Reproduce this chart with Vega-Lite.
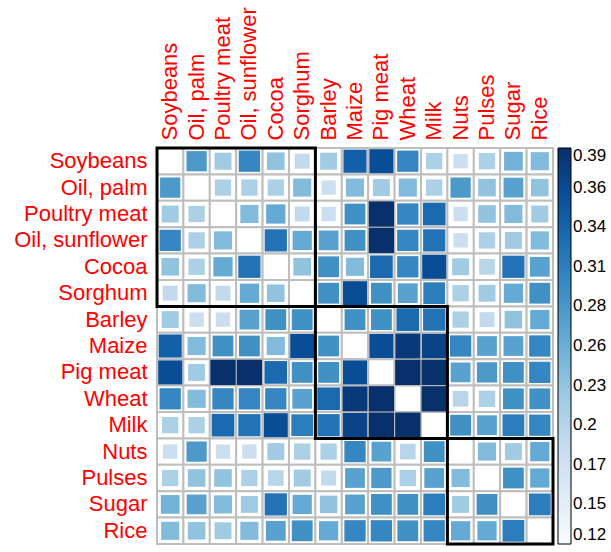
{
"$schema":"https://vega.github.io/schema/vega-lite/v6.json",
"autosize":"none",
"width":396,"height":396,
"padding":{"left":157,"top":148,"right":58,"bottom":8},
"background":"white",
"config":{"view":{"stroke":null},"font":"Liberation Sans"},
"datasets":{
"boxes":[{"a":"Soybeans","b":"Sorghum"},{"a":"Barley","b":"Milk"},{"a":"Nuts","b":"Rice"}],
"cells":[
{"r":"Soybeans","c":"Soybeans","v":null},{"r":"Soybeans","c":"Oil, palm","v":0.28},{"r":"Soybeans","c":"Poultry meat","v":0.22},{"r":"Soybeans","c":"Oil, sunflower","v":0.30},{"r":"Soybeans","c":"Cocoa","v":0.23},{"r":"Soybeans","c":"Sorghum","v":0.19},{"r":"Soybeans","c":"Barley","v":0.22},{"r":"Soybeans","c":"Maize","v":0.34},{"r":"Soybeans","c":"Pig meat","v":0.36},{"r":"Soybeans","c":"Wheat","v":0.30},{"r":"Soybeans","c":"Milk","v":0.21},{"r":"Soybeans","c":"Nuts","v":0.18},{"r":"Soybeans","c":"Pulses","v":0.21},{"r":"Soybeans","c":"Sugar","v":0.25},{"r":"Soybeans","c":"Rice","v":0.24},
{"r":"Oil, palm","c":"Soybeans","v":0.28},{"r":"Oil, palm","c":"Oil, palm","v":null},{"r":"Oil, palm","c":"Poultry meat","v":0.21},{"r":"Oil, palm","c":"Oil, sunflower","v":0.21},{"r":"Oil, palm","c":"Cocoa","v":0.21},{"r":"Oil, palm","c":"Sorghum","v":0.24},{"r":"Oil, palm","c":"Barley","v":0.18},{"r":"Oil, palm","c":"Maize","v":0.24},{"r":"Oil, palm","c":"Pig meat","v":0.22},{"r":"Oil, palm","c":"Wheat","v":0.24},{"r":"Oil, palm","c":"Milk","v":0.21},{"r":"Oil, palm","c":"Nuts","v":0.28},{"r":"Oil, palm","c":"Pulses","v":0.23},{"r":"Oil, palm","c":"Sugar","v":0.27},{"r":"Oil, palm","c":"Rice","v":0.23},
{"r":"Poultry meat","c":"Soybeans","v":0.22},{"r":"Poultry meat","c":"Oil, palm","v":0.21},{"r":"Poultry meat","c":"Poultry meat","v":null},{"r":"Poultry meat","c":"Oil, sunflower","v":0.24},{"r":"Poultry meat","c":"Cocoa","v":0.26},{"r":"Poultry meat","c":"Sorghum","v":0.19},{"r":"Poultry meat","c":"Barley","v":0.18},{"r":"Poultry meat","c":"Maize","v":0.29},{"r":"Poultry meat","c":"Pig meat","v":0.39},{"r":"Poultry meat","c":"Wheat","v":0.30},{"r":"Poultry meat","c":"Milk","v":0.33},{"r":"Poultry meat","c":"Nuts","v":0.18},{"r":"Poultry meat","c":"Pulses","v":0.23},{"r":"Poultry meat","c":"Sugar","v":0.24},{"r":"Poultry meat","c":"Rice","v":0.22},
{"r":"Oil, sunflower","c":"Soybeans","v":0.30},{"r":"Oil, sunflower","c":"Oil, palm","v":0.21},{"r":"Oil, sunflower","c":"Poultry meat","v":0.24},{"r":"Oil, sunflower","c":"Oil, sunflower","v":null},{"r":"Oil, sunflower","c":"Cocoa","v":0.32},{"r":"Oil, sunflower","c":"Sorghum","v":0.26},{"r":"Oil, sunflower","c":"Barley","v":0.27},{"r":"Oil, sunflower","c":"Maize","v":0.29},{"r":"Oil, sunflower","c":"Pig meat","v":0.39},{"r":"Oil, sunflower","c":"Wheat","v":0.30},{"r":"Oil, sunflower","c":"Milk","v":0.32},{"r":"Oil, sunflower","c":"Nuts","v":0.18},{"r":"Oil, sunflower","c":"Pulses","v":0.21},{"r":"Oil, sunflower","c":"Sugar","v":0.22},{"r":"Oil, sunflower","c":"Rice","v":0.24},
{"r":"Cocoa","c":"Soybeans","v":0.23},{"r":"Cocoa","c":"Oil, palm","v":0.21},{"r":"Cocoa","c":"Poultry meat","v":0.26},{"r":"Cocoa","c":"Oil, sunflower","v":0.32},{"r":"Cocoa","c":"Cocoa","v":null},{"r":"Cocoa","c":"Sorghum","v":0.23},{"r":"Cocoa","c":"Barley","v":0.29},{"r":"Cocoa","c":"Maize","v":0.24},{"r":"Cocoa","c":"Pig meat","v":0.33},{"r":"Cocoa","c":"Wheat","v":0.30},{"r":"Cocoa","c":"Milk","v":0.36},{"r":"Cocoa","c":"Nuts","v":0.22},{"r":"Cocoa","c":"Pulses","v":0.20},{"r":"Cocoa","c":"Sugar","v":0.32},{"r":"Cocoa","c":"Rice","v":0.27},
{"r":"Sorghum","c":"Soybeans","v":0.19},{"r":"Sorghum","c":"Oil, palm","v":0.24},{"r":"Sorghum","c":"Poultry meat","v":0.19},{"r":"Sorghum","c":"Oil, sunflower","v":0.26},{"r":"Sorghum","c":"Cocoa","v":0.23},{"r":"Sorghum","c":"Sorghum","v":null},{"r":"Sorghum","c":"Barley","v":0.29},{"r":"Sorghum","c":"Maize","v":0.36},{"r":"Sorghum","c":"Pig meat","v":0.29},{"r":"Sorghum","c":"Wheat","v":0.27},{"r":"Sorghum","c":"Milk","v":0.31},{"r":"Sorghum","c":"Nuts","v":0.21},{"r":"Sorghum","c":"Pulses","v":0.22},{"r":"Sorghum","c":"Sugar","v":0.26},{"r":"Sorghum","c":"Rice","v":0.29},
{"r":"Barley","c":"Soybeans","v":0.22},{"r":"Barley","c":"Oil, palm","v":0.18},{"r":"Barley","c":"Poultry meat","v":0.18},{"r":"Barley","c":"Oil, sunflower","v":0.27},{"r":"Barley","c":"Cocoa","v":0.29},{"r":"Barley","c":"Sorghum","v":0.29},{"r":"Barley","c":"Barley","v":null},{"r":"Barley","c":"Maize","v":0.29},{"r":"Barley","c":"Pig meat","v":0.29},{"r":"Barley","c":"Wheat","v":0.33},{"r":"Barley","c":"Milk","v":0.32},{"r":"Barley","c":"Nuts","v":0.21},{"r":"Barley","c":"Pulses","v":0.19},{"r":"Barley","c":"Sugar","v":0.23},{"r":"Barley","c":"Rice","v":0.26},
{"r":"Maize","c":"Soybeans","v":0.34},{"r":"Maize","c":"Oil, palm","v":0.24},{"r":"Maize","c":"Poultry meat","v":0.29},{"r":"Maize","c":"Oil, sunflower","v":0.29},{"r":"Maize","c":"Cocoa","v":0.24},{"r":"Maize","c":"Sorghum","v":0.36},{"r":"Maize","c":"Barley","v":0.29},{"r":"Maize","c":"Maize","v":null},{"r":"Maize","c":"Pig meat","v":0.36},{"r":"Maize","c":"Wheat","v":0.38},{"r":"Maize","c":"Milk","v":0.37},{"r":"Maize","c":"Nuts","v":0.30},{"r":"Maize","c":"Pulses","v":0.27},{"r":"Maize","c":"Sugar","v":0.27},{"r":"Maize","c":"Rice","v":0.30},
{"r":"Pig meat","c":"Soybeans","v":0.36},{"r":"Pig meat","c":"Oil, palm","v":0.22},{"r":"Pig meat","c":"Poultry meat","v":0.39},{"r":"Pig meat","c":"Oil, sunflower","v":0.39},{"r":"Pig meat","c":"Cocoa","v":0.33},{"r":"Pig meat","c":"Sorghum","v":0.29},{"r":"Pig meat","c":"Barley","v":0.29},{"r":"Pig meat","c":"Maize","v":0.36},{"r":"Pig meat","c":"Pig meat","v":null},{"r":"Pig meat","c":"Wheat","v":0.39},{"r":"Pig meat","c":"Milk","v":0.39},{"r":"Pig meat","c":"Nuts","v":0.27},{"r":"Pig meat","c":"Pulses","v":0.28},{"r":"Pig meat","c":"Sugar","v":0.29},{"r":"Pig meat","c":"Rice","v":0.30},
{"r":"Wheat","c":"Soybeans","v":0.30},{"r":"Wheat","c":"Oil, palm","v":0.24},{"r":"Wheat","c":"Poultry meat","v":0.30},{"r":"Wheat","c":"Oil, sunflower","v":0.30},{"r":"Wheat","c":"Cocoa","v":0.30},{"r":"Wheat","c":"Sorghum","v":0.27},{"r":"Wheat","c":"Barley","v":0.33},{"r":"Wheat","c":"Maize","v":0.38},{"r":"Wheat","c":"Pig meat","v":0.39},{"r":"Wheat","c":"Wheat","v":null},{"r":"Wheat","c":"Milk","v":0.39},{"r":"Wheat","c":"Nuts","v":0.20},{"r":"Wheat","c":"Pulses","v":0.21},{"r":"Wheat","c":"Sugar","v":0.29},{"r":"Wheat","c":"Rice","v":0.29},
{"r":"Milk","c":"Soybeans","v":0.21},{"r":"Milk","c":"Oil, palm","v":0.21},{"r":"Milk","c":"Poultry meat","v":0.33},{"r":"Milk","c":"Oil, sunflower","v":0.32},{"r":"Milk","c":"Cocoa","v":0.36},{"r":"Milk","c":"Sorghum","v":0.31},{"r":"Milk","c":"Barley","v":0.32},{"r":"Milk","c":"Maize","v":0.37},{"r":"Milk","c":"Pig meat","v":0.39},{"r":"Milk","c":"Wheat","v":0.39},{"r":"Milk","c":"Milk","v":null},{"r":"Milk","c":"Nuts","v":0.29},{"r":"Milk","c":"Pulses","v":0.27},{"r":"Milk","c":"Sugar","v":0.31},{"r":"Milk","c":"Rice","v":0.30},
{"r":"Nuts","c":"Soybeans","v":0.18},{"r":"Nuts","c":"Oil, palm","v":0.28},{"r":"Nuts","c":"Poultry meat","v":0.18},{"r":"Nuts","c":"Oil, sunflower","v":0.18},{"r":"Nuts","c":"Cocoa","v":0.22},{"r":"Nuts","c":"Sorghum","v":0.21},{"r":"Nuts","c":"Barley","v":0.21},{"r":"Nuts","c":"Maize","v":0.30},{"r":"Nuts","c":"Pig meat","v":0.27},{"r":"Nuts","c":"Wheat","v":0.20},{"r":"Nuts","c":"Milk","v":0.29},{"r":"Nuts","c":"Nuts","v":null},{"r":"Nuts","c":"Pulses","v":0.24},{"r":"Nuts","c":"Sugar","v":0.22},{"r":"Nuts","c":"Rice","v":0.26},
{"r":"Pulses","c":"Soybeans","v":0.21},{"r":"Pulses","c":"Oil, palm","v":0.23},{"r":"Pulses","c":"Poultry meat","v":0.23},{"r":"Pulses","c":"Oil, sunflower","v":0.21},{"r":"Pulses","c":"Cocoa","v":0.20},{"r":"Pulses","c":"Sorghum","v":0.22},{"r":"Pulses","c":"Barley","v":0.19},{"r":"Pulses","c":"Maize","v":0.27},{"r":"Pulses","c":"Pig meat","v":0.28},{"r":"Pulses","c":"Wheat","v":0.21},{"r":"Pulses","c":"Milk","v":0.27},{"r":"Pulses","c":"Nuts","v":0.24},{"r":"Pulses","c":"Pulses","v":null},{"r":"Pulses","c":"Sugar","v":0.29},{"r":"Pulses","c":"Rice","v":0.26},
{"r":"Sugar","c":"Soybeans","v":0.25},{"r":"Sugar","c":"Oil, palm","v":0.27},{"r":"Sugar","c":"Poultry meat","v":0.24},{"r":"Sugar","c":"Oil, sunflower","v":0.22},{"r":"Sugar","c":"Cocoa","v":0.32},{"r":"Sugar","c":"Sorghum","v":0.26},{"r":"Sugar","c":"Barley","v":0.23},{"r":"Sugar","c":"Maize","v":0.27},{"r":"Sugar","c":"Pig meat","v":0.29},{"r":"Sugar","c":"Wheat","v":0.29},{"r":"Sugar","c":"Milk","v":0.31},{"r":"Sugar","c":"Nuts","v":0.22},{"r":"Sugar","c":"Pulses","v":0.29},{"r":"Sugar","c":"Sugar","v":null},{"r":"Sugar","c":"Rice","v":0.31},
{"r":"Rice","c":"Soybeans","v":0.24},{"r":"Rice","c":"Oil, palm","v":0.23},{"r":"Rice","c":"Poultry meat","v":0.22},{"r":"Rice","c":"Oil, sunflower","v":0.24},{"r":"Rice","c":"Cocoa","v":0.27},{"r":"Rice","c":"Sorghum","v":0.29},{"r":"Rice","c":"Barley","v":0.26},{"r":"Rice","c":"Maize","v":0.30},{"r":"Rice","c":"Pig meat","v":0.30},{"r":"Rice","c":"Wheat","v":0.29},{"r":"Rice","c":"Milk","v":0.30},{"r":"Rice","c":"Nuts","v":0.26},{"r":"Rice","c":"Pulses","v":0.26},{"r":"Rice","c":"Sugar","v":0.31},{"r":"Rice","c":"Rice","v":null}
]},
"layer":[
{"data":{"name":"cells"},
 "mark":{"type":"rect","fill":"white","stroke":"#bebebe","strokeWidth":2},
 "encoding":{
  "x":{"field":"c","type":"nominal","title":null,
   "scale":{"domain":["Soybeans","Oil, palm","Poultry meat","Oil, sunflower","Cocoa","Sorghum","Barley","Maize","Pig meat","Wheat","Milk","Nuts","Pulses","Sugar","Rice"],"paddingInner":0,"paddingOuter":0},
   "axis":{"orient":"top","labelAngle":-90,"labelAlign":"left","labelBaseline":"middle","domain":false,"ticks":false,"labelPadding":8,"labelColor":"#FF0000","labelFontSize":22,"labelFont":"Liberation Sans"}},
  "y":{"field":"r","type":"nominal","title":null,
   "scale":{"domain":["Soybeans","Oil, palm","Poultry meat","Oil, sunflower","Cocoa","Sorghum","Barley","Maize","Pig meat","Wheat","Milk","Nuts","Pulses","Sugar","Rice"],"paddingInner":0,"paddingOuter":0},
   "axis":{"domain":false,"ticks":false,"labelPadding":10,"labelColor":"#FF0000","labelFontSize":22,"labelFont":"Liberation Sans"}}
 }},
{"data":{"name":"cells"},
 "transform":[{"filter":"datum.v != null"}],
 "mark":{"type":"square","opacity":1},
 "encoding":{
  "x":{"field":"c","type":"nominal"},
  "y":{"field":"r","type":"nominal"},
  "size":{"field":"v","type":"quantitative","scale":{"domain":[0.10,0.39],"range":[38,640]},"legend":null},
  "color":{"field":"v","type":"quantitative",
   "scale":{"domain":[0.12,0.39],"range":["#F7FBFF","#DEEBF7","#C6DBEF","#9ECAE1","#6BAED6","#4292C6","#2171B5","#08519C","#08306B"]},
   "legend":{"type":"gradient","title":null,"orient":"none","legendX":401,"legendY":0,"direction":"vertical","gradientLength":396,"gradientThickness":13,"gradientStrokeColor":"black","gradientStrokeWidth":1,
    "values":[0.12,0.147,0.174,0.201,0.228,0.2551,0.282,0.309,0.336,0.363,0.39],"format":".2~f","labelFontSize":17,"labelColor":"black","labelFont":"Liberation Sans","labelOffset":2,"labelOverlap":false,
    "encode":{"labels":{"update":{"baseline":{"value":"middle"}}}}}}
 }},
{"data":{"name":"boxes"},
 "mark":{"type":"rect","fill":null,"filled":false,"stroke":"black","strokeWidth":3},
 "encoding":{
  "x":{"field":"a","type":"nominal","bandPosition":0},
  "x2":{"field":"b","bandPosition":1},
  "y":{"field":"a","type":"nominal","bandPosition":0},
  "y2":{"field":"b","bandPosition":1}
 }}
]
}
